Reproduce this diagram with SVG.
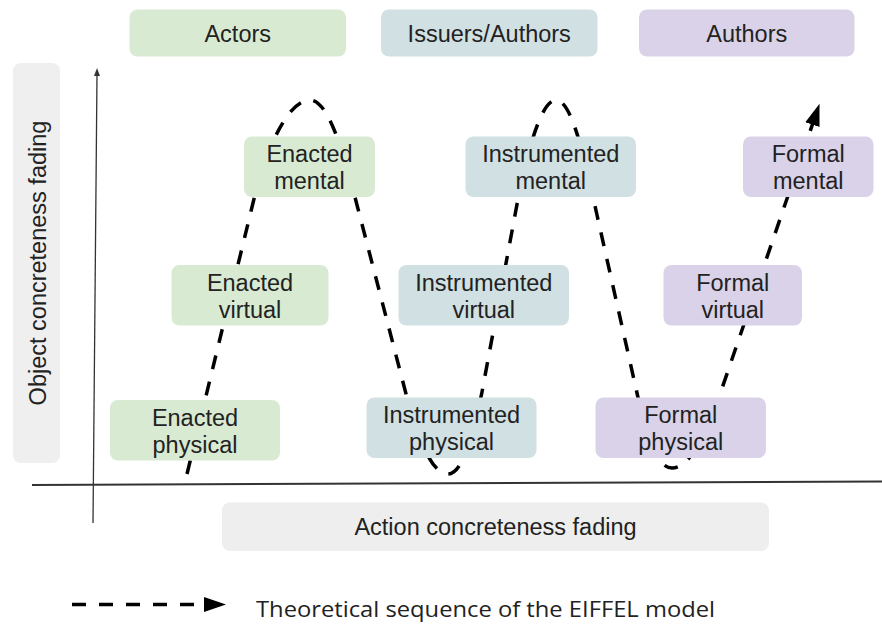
<svg xmlns="http://www.w3.org/2000/svg" width="882" height="624" viewBox="0 0 882 624">
  <style>
    .lbl { font-family: "Liberation Sans", Arial, sans-serif; font-size: 23.5px; fill: #222; text-anchor: middle; }
    .green { fill: #d9ead3; }
    .blue { fill: #d0e0e3; }
    .purple { fill: #d9d2e9; }
    .grey { fill: #eeeeee; }
    .seq { fill: none; stroke: #000; stroke-width: 3.5; stroke-dasharray: 14 13; }
    .axis { fill: none; stroke: #333; }
  </style>
  <defs>
    <marker id="seqHead" viewBox="0 0 22 15" markerWidth="22" markerHeight="15" refX="8" refY="7.5" orient="auto" markerUnits="userSpaceOnUse">
      <path d="M0,0 L22,7.5 L0,15 z" fill="#000"/>
    </marker>
    <marker id="axisHead" viewBox="0 0 8 6" markerWidth="8" markerHeight="6" refX="2" refY="3" orient="auto" markerUnits="userSpaceOnUse">
      <path d="M0,0 L8,3 L0,6 z" fill="#333"/>
    </marker>
  </defs>

  <!-- axis captions -->
  <g id="axis-y-label">
    <rect x="13" y="63" width="47" height="400" rx="8" fill="#efefef"/>
    <text class="lbl" transform="translate(46,263) rotate(-90)">Object concreteness fading</text>
  </g>
  <g id="axis-x-label">
    <rect x="222" y="502.5" width="547" height="48.5" rx="8" class="grey"/>
    <text class="lbl" x="495.5" y="535">Action concreteness fading</text>
  </g>

  <!-- column headers -->
  <g id="hdr-actors">
    <rect x="129.5" y="9.5" width="216.5" height="47" rx="8" class="green"/>
    <text class="lbl" x="237.75" y="42">Actors</text>
  </g>
  <g id="hdr-issuers">
    <rect x="381" y="9.5" width="216.5" height="47" rx="8" class="blue"/>
    <text class="lbl" x="489.25" y="42">Issuers/Authors</text>
  </g>
  <g id="hdr-authors">
    <rect x="639" y="9.5" width="215.5" height="47" rx="8" class="purple"/>
    <text class="lbl" x="746.75" y="42">Authors</text>
  </g>

  <!-- axes -->
  <g id="axes">
    <line class="axis" x1="93" y1="523" x2="97" y2="74" stroke-width="1.3" marker-end="url(#axisHead)"/>
    <line class="axis" x1="32" y1="485" x2="882" y2="481.5" stroke-width="2" stroke="#555"/>
  </g>

  <!-- theoretical sequence -->
  <g id="connectors">
    <path class="seq" marker-end="url(#seqHead)" d="M187,474 L253,203 C268,141 290,100 310,100 C328,100 343,150 357,205 L405,390 C416,432 430,474 448,474 C463,474 474,432 482,392 L515,215 C525,160 540,100 556,100 C572,100 585,160 597,215 L637,393 C645,430 655,468 672,468 C690,468 705,435 718,400 L815,117"/>
  </g>

  <!-- Enacted column -->
  <g id="enacted-mental">
    <rect x="244" y="136.5" width="131" height="60.5" rx="8" class="green"/>
    <text class="lbl" x="309.5" y="162">Enacted</text>
    <text class="lbl" x="309.5" y="189">mental</text>
  </g>
  <g id="enacted-virtual">
    <rect x="171.5" y="265" width="157" height="60.5" rx="8" class="green"/>
    <text class="lbl" x="250" y="290.5">Enacted</text>
    <text class="lbl" x="250" y="317.5">virtual</text>
  </g>
  <g id="enacted-physical">
    <rect x="110" y="400" width="170" height="60.5" rx="8" class="green"/>
    <text class="lbl" x="195" y="425.5">Enacted</text>
    <text class="lbl" x="195" y="452.5">physical</text>
  </g>

  <!-- Instrumented column -->
  <g id="instrumented-mental">
    <rect x="465.5" y="136.5" width="170.5" height="60.5" rx="8" class="blue"/>
    <text class="lbl" x="550.75" y="162">Instrumented</text>
    <text class="lbl" x="550.75" y="189">mental</text>
  </g>
  <g id="instrumented-virtual">
    <rect x="398.5" y="265" width="170.5" height="60.5" rx="8" class="blue"/>
    <text class="lbl" x="483.75" y="290.5">Instrumented</text>
    <text class="lbl" x="483.75" y="317.5">virtual</text>
  </g>
  <g id="instrumented-physical">
    <rect x="366.5" y="397.5" width="170" height="60.5" rx="8" class="blue"/>
    <text class="lbl" x="451.5" y="423">Instrumented</text>
    <text class="lbl" x="451.5" y="450">physical</text>
  </g>

  <!-- Formal column -->
  <g id="formal-mental">
    <rect x="743" y="136.5" width="130.5" height="60.5" rx="8" class="purple"/>
    <text class="lbl" x="808.25" y="162">Formal</text>
    <text class="lbl" x="808.25" y="189">mental</text>
  </g>
  <g id="formal-virtual">
    <rect x="663.5" y="265" width="138.5" height="60.5" rx="8" class="purple"/>
    <text class="lbl" x="732.75" y="290.5">Formal</text>
    <text class="lbl" x="732.75" y="317.5">virtual</text>
  </g>
  <g id="formal-physical">
    <rect x="595.5" y="397.5" width="170.5" height="60.5" rx="8" class="purple"/>
    <text class="lbl" x="680.75" y="423">Formal</text>
    <text class="lbl" x="680.75" y="450">physical</text>
  </g>

  <!-- legend -->
  <g id="legend">
    <line class="seq" x1="72" y1="604.5" x2="212" y2="604.5" marker-end="url(#seqHead)"/>
    <text x="256" y="617" font-family="'Open Sans', 'Noto Sans', sans-serif" font-size="22" fill="#222" textLength="459" lengthAdjust="spacingAndGlyphs">Theoretical sequence of the EIFFEL model</text>
  </g>
</svg>
